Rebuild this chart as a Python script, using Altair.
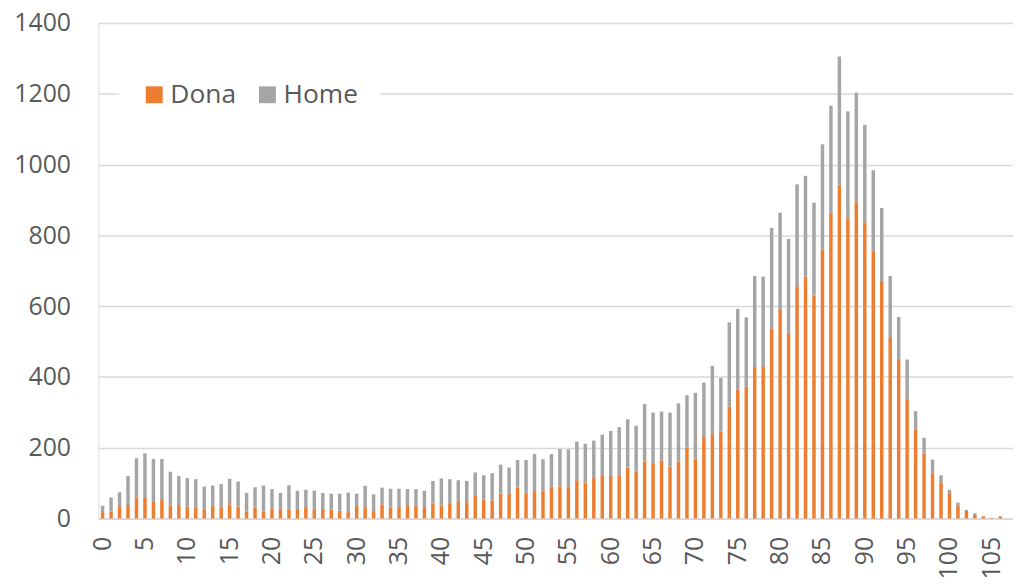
import altair as alt
import pandas as pd

ages = list(range(0, 108))

dona = [18, 20, 35, 38, 58, 58, 49, 52, 37, 38,
        33, 30, 26, 35, 30, 40, 34, 20, 31, 19,
        24, 26, 26, 27, 32, 24, 27, 25, 22, 18,
        35, 32, 21, 40, 31, 32, 35, 37, 32, 42,
        37, 41, 49, 46, 66, 53, 51, 70, 71, 87,
        69, 77, 79, 90, 91, 86, 108, 102, 114, 122,
        122, 122, 144, 133, 161, 157, 164, 147, 161, 201,
        169, 230, 238, 245, 316, 364, 372, 428, 430, 537,
        591, 521, 656, 683, 630, 760, 862, 943, 848, 893,
        837, 753, 671, 510, 451, 338, 252, 184, 126, 102,
        69, 35, 21, 10, 6, 1, 6, 0]

home = [18, 39, 39, 82, 112, 126, 119, 116, 95, 82,
        81, 81, 64, 58, 67, 72, 70, 52, 57, 74,
        59, 46, 68, 51, 49, 55, 45, 45, 48, 55,
        35, 60, 47, 47, 53, 52, 48, 46, 46, 64,
        76, 70, 59, 60, 64, 69, 77, 82, 73, 78,
        96, 105, 88, 92, 105, 109, 109, 109, 106, 115,
        125, 136, 136, 129, 162, 142, 138, 152, 164, 147,
        186, 154, 193, 152, 238, 228, 196, 257, 253, 284,
        273, 269, 288, 285, 262, 297, 304, 362, 302, 310,
        275, 231, 206, 175, 118, 111, 51, 44, 40, 20,
        12, 10, 3, 5, 0, 1, 0, 0]

series = ["Dona", "Home"]
colors = ["#ED7D31", "#A5A5A5"]
tick_values = list(range(0, 106, 5))
y_ticks = list(range(0, 1401, 200))

rows = []
for a, d, h in zip(ages, dona, home):
    rows.append({"age": a, "serie": "Dona", "ord": 0, "value": d})
    rows.append({"age": a, "serie": "Home", "ord": 1, "value": h})
df = pd.DataFrame(rows)

FONT = "Open Sans"
GREY_TXT = "#595959"

chart = alt.Chart(df).mark_bar().encode(
    x=alt.X("age:O",
            scale=alt.Scale(domain=ages, paddingInner=0.59, paddingOuter=0.295),
            axis=alt.Axis(values=tick_values, labelAngle=270, labelAlign="right",
                          labelBaseline="middle", ticks=False, labelPadding=18,
                          labelFontSize=25, labelFont=FONT, labelColor=GREY_TXT,
                          domainColor="#D9D9D9", domainWidth=1.5, title=None,
                          grid=False, labelOverlap=False)),
    y=alt.Y("value:Q", stack="zero",
            scale=alt.Scale(domain=[0, 1400], nice=False),
            axis=alt.Axis(values=y_ticks, format="d", grid=True, gridColor="#D9D9D9",
                          gridWidth=1.5, domain=False, ticks=False, labelPadding=28,
                          labelFontSize=25, labelFont=FONT, labelColor=GREY_TXT,
                          title=None)),
    color=alt.Color("serie:N",
                    scale=alt.Scale(domain=series, range=colors),
                    legend=alt.Legend(title=None, orient="none", legendX=21, legendY=37,
                                      direction="horizontal", symbolType="square",
                                      symbolSize=289, symbolStrokeWidth=0,
                                      labelFontSize=26.5, labelFont=FONT,
                                      labelColor=GREY_TXT, labelOffset=3,
                                      columnPadding=18, padding=22,
                                      fillColor="white")),
    order=alt.Order("ord:Q", sort="ascending"),
).properties(
    width=921,
    height=499,
    autosize=alt.AutoSizeParams(type="none"),
    padding={"left": 91, "top": 13, "right": 0, "bottom": 64},
).configure_view(stroke=None).configure(background="white")

chart.save("out.html", embed_options={"renderer": "svg", "actions": False})
